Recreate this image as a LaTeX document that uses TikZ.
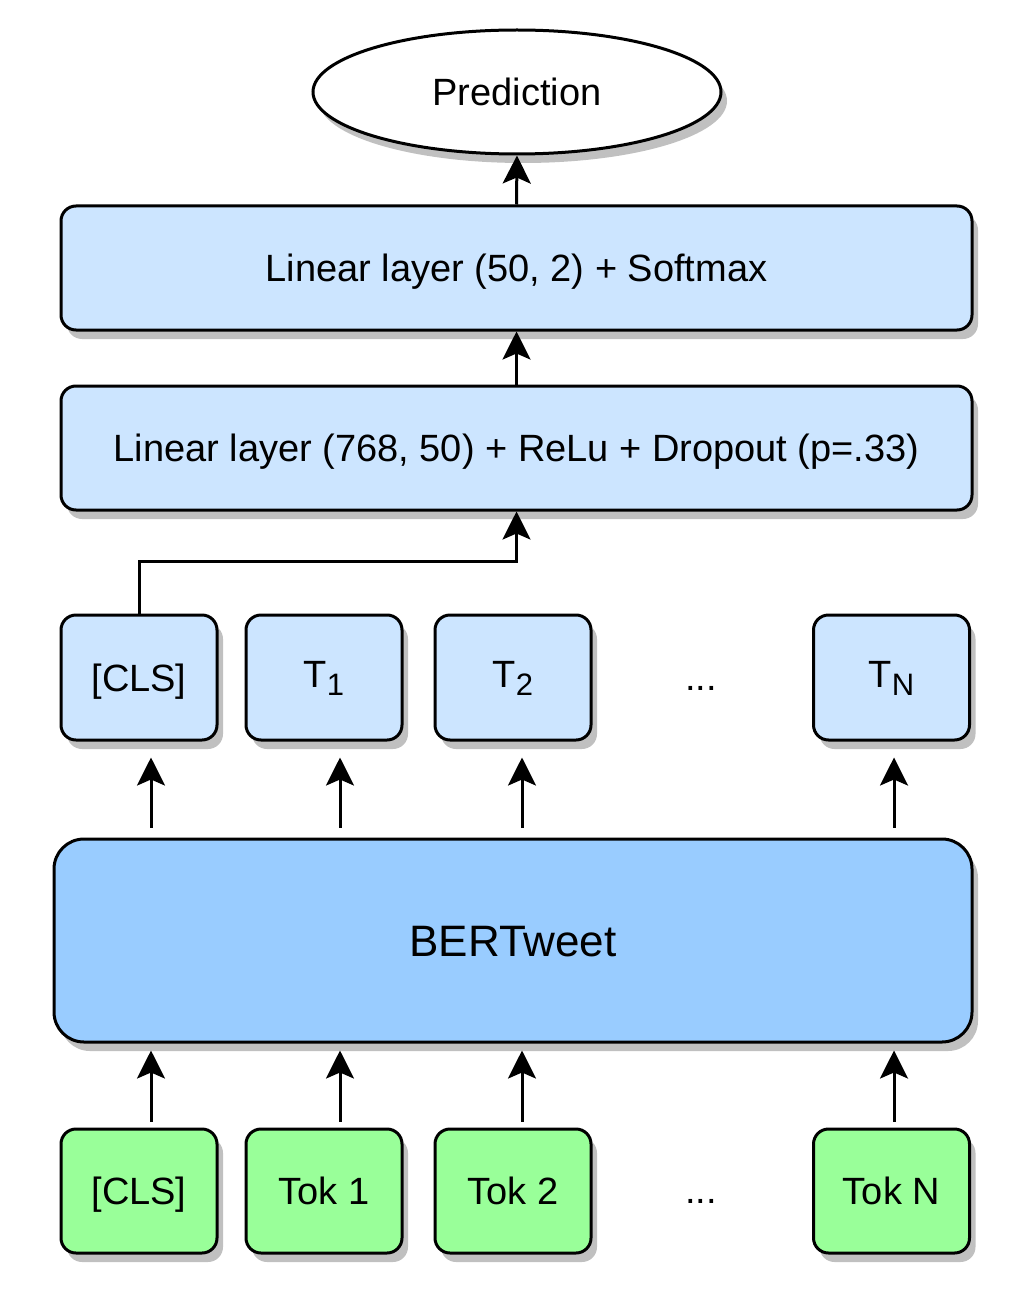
\documentclass[tikz,border=0pt]{standalone}
\usepackage{fontspec}
\setmainfont{Liberation Sans}
\usetikzlibrary{shapes.geometric,arrows.meta,shadows}
\definecolor{lblue}{HTML}{CCE5FF}
\definecolor{mblue}{HTML}{99CCFF}
\definecolor{lgreen}{HTML}{99FF99}
\definecolor{shd}{HTML}{C0C0C0}
\newcommand{\subtxt}[1]{\raisebox{-8pt}{\fontsize{31}{33}\selectfont #1}}
\begin{document}
\begin{tikzpicture}[x=1pt,y=-1pt,
  font=\fontsize{38}{42}\selectfont,
  every node/.style={text height=27pt,text depth=0pt},
  shd/.style={drop shadow={shadow xshift=6pt,shadow yshift=-9pt,fill=shd,opacity=1}},
  base/.style={draw=black,line width=3pt,inner sep=0pt,shd},
  layer/.style={base,rectangle,rounded corners=15pt,fill=lblue,minimum width=911pt,minimum height=124pt},
  outbox/.style={base,rectangle,rounded corners=15pt,fill=lblue,minimum width=156pt,minimum height=125pt},
  subnode/.style={text depth=7pt},
  inbox/.style={base,rectangle,rounded corners=15pt,fill=lgreen,minimum width=156pt,minimum height=124pt},
  bertbox/.style={base,rectangle,rounded corners=30pt,fill=mblue,minimum width=918pt,minimum height=203pt,font=\fontsize{44}{48}\selectfont,text height=31.5pt},
  predbox/.style={base,ellipse,fill=white,minimum width=408pt,minimum height=124pt},
  arr/.style={line width=3pt,-{Stealth[length=28pt,width=28pt,inset=6pt]}},
  conn/.style={line width=3pt}
]
\useasboundingbox (0,0) rectangle (1024,1297);
\node[predbox] (pred) at (517,92) {Prediction};
\node[layer] (lin1) at (516.5,268) {Linear layer (50, 2) + Softmax};
\node[layer] (lin2) at (516.5,448) {Linear layer (768, 50) + ReLu + Dropout (p=.33)};
\node[outbox] (ocls) at (139,677.5) {[CLS]};
\node[outbox,subnode] (o1) at (324,677.5) {T\subtxt{1}};
\node[outbox,subnode] (o2) at (513,677.5) {T\subtxt{2}};
\node (odots) at (701,676.5) {...};
\node[outbox,subnode] (on) at (891.5,677.5) {T\subtxt{N}};
\node[bertbox] (bert) at (513,940.5) {BERTweet};
\node[inbox] (icls) at (139,1191) {[CLS]};
\node[inbox] (i1) at (324,1191) {Tok 1};
\node[inbox] (i2) at (513,1191) {Tok 2};
\node (idots) at (701,1189.5) {...};
\node[inbox] (in) at (891.5,1191) {Tok N};
\coordinate (xa) at (151,0);
\coordinate (xb) at (340,0);
\coordinate (xc) at (522,0);
\coordinate (xd) at (894,0);
\coordinate (bend) at (139,561);
\draw[arr] (lin1.north) -- (pred.south);
\draw[arr] (lin2.north) -- (lin1.south);
\draw[arr] (ocls.north) -- (bend) -| (lin2.south);
\foreach \x/\o in {xa/ocls,xb/o1,xc/o2,xd/on}{
  \draw[arr,shorten <=10pt,shorten >=16pt] (bert.north -| \x) -- (\o.south -| \x);
}
\foreach \x/\i in {xa/icls,xb/i1,xc/i2,xd/in}{
  \draw[arr,shorten <=6pt,shorten >=7pt] (\i.north -| \x) -- (bert.south -| \x);
}
\end{tikzpicture}
\end{document}
